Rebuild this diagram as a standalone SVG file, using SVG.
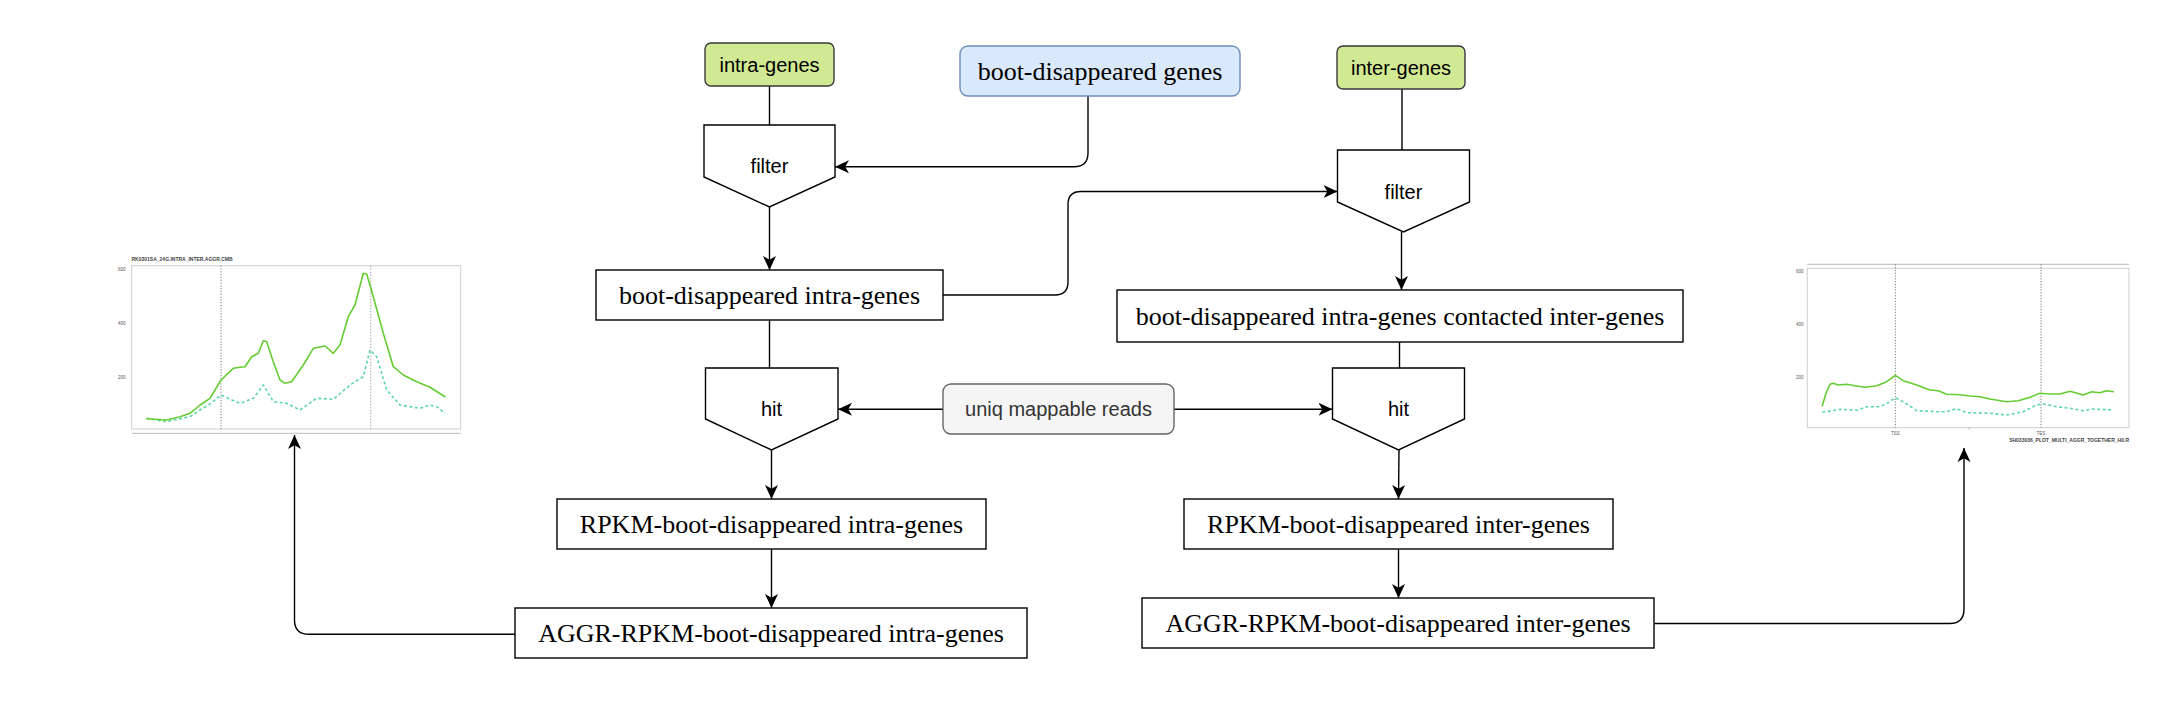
<svg xmlns="http://www.w3.org/2000/svg" width="2171" height="705" viewBox="0 0 2171 705">
<style>
.box{fill:#fff;stroke:#000;stroke-width:1.4}
.green{fill:#d2e993;stroke:#36393d;stroke-width:1.4}
.blue{fill:#dae8fc;stroke:#6c8ebf;stroke-width:1.4}
.grey{fill:#f5f5f5;stroke:#666;stroke-width:1.4}
.serif{font-family:"Liberation Serif","Times New Roman",serif;font-size:26px;fill:#000;text-anchor:middle;dominant-baseline:central}
.sans{font-family:"Liberation Sans",Arial,sans-serif;font-size:20px;fill:#000;text-anchor:middle;dominant-baseline:central}
.edge{fill:none;stroke:#000;stroke-width:1.4}
.frame{fill:#fff;stroke:#cfcfcf;stroke-width:1}
.axis{fill:none;stroke:#c8c8c8;stroke-width:1.3}
.tiny{font-family:"Liberation Sans",Arial,sans-serif;font-size:5px;fill:#444;font-weight:bold}
.tick{font-family:"Liberation Sans",Arial,sans-serif;font-size:4.5px;fill:#555}
.solid{fill:none;stroke:#66cc33;stroke-width:1.6;stroke-linejoin:round;stroke-linecap:round}
.dash{fill:none;stroke:#5cd6a6;stroke-width:1.6;stroke-dasharray:3 2.5;stroke-linejoin:round}
.vdot{fill:none;stroke:#555;stroke-width:0.8;stroke-dasharray:1.2 1.6}
.vdotl{fill:none;stroke:#b5b5b5;stroke-width:1.2;stroke-dasharray:1.5 1.5}
</style>
<defs>
<marker id="arr" markerUnits="userSpaceOnUse" markerWidth="15" markerHeight="15" refX="14" refY="7.5" orient="auto">
<path d="M0,1 L14,7.5 L0,14 L3.8,7.5 Z" fill="#000"/>
</marker>
</defs>
<rect width="2171" height="705" fill="#fff"/>

<g id="chart-left">
<text class="tiny" x="131.5" y="261">RK0301SA_24G.INTRA_INTER.AGGR.CMB</text>
<rect class="frame" x="131.7" y="265.7" width="329" height="163.3"/>
<line class="axis" x1="131.7" y1="433.3" x2="460.7" y2="433.3"/>
<text class="tick" x="118" y="270.5">600</text>
<text class="tick" x="118" y="324.5">400</text>
<text class="tick" x="118" y="378.5">200</text>
<line class="vdot" x1="221" y1="265.7" x2="221" y2="429"/>
<line class="vdotl" x1="370.7" y1="265.7" x2="370.7" y2="429"/>
<polyline class="dash" points="146.7,418.3 166.7,421.7 190,416.7 200,410 210,404 221,395 232,400 240,403.3 253.3,398.3 263.3,385 273.3,401.7 286.7,403.3 300,410 316.7,398.3 333.3,399.3 350,385 363.3,376.7 370,350 376.7,356.7 386.7,390 400,405 420,408.3 430,405 436.7,406.7 445,413.3"/>
<polyline class="solid" points="146.7,418.7 166.7,420 180,416.7 190,413.3 200,405 210,398.3 221,380 233.3,368.3 240,367.3 245,366.7 251.7,356.7 258.3,353.3 263.3,340.7 266.7,341.7 273.3,361.7 280,380 285,383.3 291.7,381.7 303.3,365 313.3,348.3 325,346 333.3,353.3 340,345 348.3,316.7 355,305 363.3,273.3 366.7,274 373.3,296.7 383.3,333.3 393.3,366.7 403.3,375 416.7,381.7 430,387.3 445,396.7"/>
</g>

<g id="chart-right">
<line class="axis" x1="1807" y1="264.3" x2="2129" y2="264.3"/>
<rect class="frame" x="1807.3" y="268.3" width="321.7" height="159.4"/>
<text class="tick" x="1796" y="272.5">600</text>
<text class="tick" x="1796" y="325.5">400</text>
<text class="tick" x="1796" y="378.5">200</text>
<line class="vdot" x1="1895.3" y1="264.3" x2="1895.3" y2="427.7"/>
<line class="vdot" x1="2041" y1="264.3" x2="2041" y2="427.7"/>
<line x1="1969" y1="427.7" x2="1969" y2="429.5" stroke="#999" stroke-width="0.6"/>
<text class="tick" x="1895.3" y="435" text-anchor="middle">TSS</text>
<text class="tick" x="2041" y="435" text-anchor="middle">TES</text>
<text class="tiny" x="2129" y="442" text-anchor="end">SH033036_PLOT_MULTI_AGGR_TOGETHER_H0.R</text>
<polyline class="dash" points="1822.3,412.3 1840,409.3 1856.7,410.3 1866.7,406.7 1880,406.7 1890,401.7 1895.3,397.7 1903.3,401.7 1916.7,410.7 1936.7,411.7 1946.7,411.7 1956.7,408.7 1966.7,412.7 1990,413.3 2006.7,415 2023.3,411.7 2036.7,405 2043.3,404 2056.7,406.7 2070,408.3 2083.3,410.7 2093.3,409 2113.3,410"/>
<polyline class="solid" points="1822.3,405.7 1826,393.3 1830,384.3 1833.3,383.3 1838.3,385 1846.7,384.3 1856.7,386 1865,387.3 1876.7,385.7 1886.7,381.7 1895.3,375.3 1903.3,380.7 1916.7,385 1930,390 1938.3,390.7 1946.7,394.3 1960,394.7 1970,396 1980,396.7 1990,399 2006.7,401.7 2018.3,400.7 2030,397.3 2040,393.3 2050,394 2060,394 2070,391.3 2083.3,395 2091.7,391.7 2100,392.7 2106.7,390.7 2113.3,391.7"/>
</g>

<g id="connectors">
<path class="edge" d="M769.5,86 V125"/>
<path class="edge" d="M1088,96 V153 Q1088,166.7 1074,166.7 H835" marker-end="url(#arr)"/>
<path class="edge" d="M769.5,207 V270" marker-end="url(#arr)"/>
<path class="edge" d="M943,295 H1055 Q1068,295 1068,282 V204.5 Q1068,191.5 1081,191.5 H1337.5" marker-end="url(#arr)"/>
<path class="edge" d="M1402,89 V150"/>
<path class="edge" d="M1401.5,232 V290" marker-end="url(#arr)"/>
<path class="edge" d="M769.5,320 V368"/>
<path class="edge" d="M1399.5,342 V368"/>
<path class="edge" d="M943,409.3 H838" marker-end="url(#arr)"/>
<path class="edge" d="M1174,409.3 H1332.5" marker-end="url(#arr)"/>
<path class="edge" d="M771.5,450 V499" marker-end="url(#arr)"/>
<path class="edge" d="M1399,450 L1398.5,499" marker-end="url(#arr)"/>
<path class="edge" d="M771.5,549 V608" marker-end="url(#arr)"/>
<path class="edge" d="M1398.5,549 V598" marker-end="url(#arr)"/>
<path class="edge" d="M515,634.3 H309 Q294.5,634.3 294.5,620 V435" marker-end="url(#arr)"/>
<path class="edge" d="M1654.5,623.5 H1950 Q1964,623.5 1964,609 V448" marker-end="url(#arr)"/>
</g>

<g id="intra-genes">
<rect class="green" x="705" y="43" width="129" height="43" rx="6"/>
<text class="sans" x="769.5" y="64.5">intra-genes</text>
</g>
<g id="boot-disappeared-genes">
<rect class="blue" x="960" y="46" width="280" height="50" rx="8"/>
<text class="serif" x="1100" y="71">boot-disappeared genes</text>
</g>
<g id="inter-genes">
<rect class="green" x="1337" y="46" width="128" height="43" rx="6"/>
<text class="sans" x="1401" y="67.5">inter-genes</text>
</g>
<g id="filter-intra">
<polygon class="box" points="704,125 835,125 835,177 769.5,207 704,177"/>
<text class="sans" x="769.5" y="166">filter</text>
</g>
<g id="filter-inter">
<polygon class="box" points="1337.5,150 1469.5,150 1469.5,202 1403.5,232 1337.5,202"/>
<text class="sans" x="1403.5" y="191.5">filter</text>
</g>
<g id="boot-disappeared-intra-genes">
<rect class="box" x="596" y="270" width="347" height="50"/>
<text class="serif" x="769.5" y="295">boot-disappeared intra-genes</text>
</g>
<g id="contacted-inter-genes">
<rect class="box" x="1117" y="290" width="566" height="52"/>
<text class="serif" x="1400" y="316">boot-disappeared intra-genes contacted inter-genes</text>
</g>
<g id="hit-intra">
<polygon class="box" points="705.5,368 838,368 838,419 771.5,450 705.5,419"/>
<text class="sans" x="771.5" y="409">hit</text>
</g>
<g id="uniq-mappable-reads">
<rect class="grey" x="943" y="384" width="231" height="50" rx="8"/>
<text class="sans" x="1058.5" y="409" style="fill:#333">uniq mappable reads</text>
</g>
<g id="hit-inter">
<polygon class="box" points="1332.5,368 1464.5,368 1464.5,419 1398.5,450 1332.5,419"/>
<text class="sans" x="1398.5" y="409">hit</text>
</g>
<g id="rpkm-intra">
<rect class="box" x="557" y="499" width="429" height="50"/>
<text class="serif" x="771.5" y="524">RPKM-boot-disappeared intra-genes</text>
</g>
<g id="rpkm-inter">
<rect class="box" x="1184" y="499" width="429" height="50"/>
<text class="serif" x="1398.5" y="524">RPKM-boot-disappeared inter-genes</text>
</g>
<g id="aggr-intra">
<rect class="box" x="515" y="608" width="512" height="50"/>
<text class="serif" x="771" y="633">AGGR-RPKM-boot-disappeared intra-genes</text>
</g>
<g id="aggr-inter">
<rect class="box" x="1142" y="598" width="512" height="50"/>
<text class="serif" x="1398" y="623">AGGR-RPKM-boot-disappeared inter-genes</text>
</g>
</svg>
